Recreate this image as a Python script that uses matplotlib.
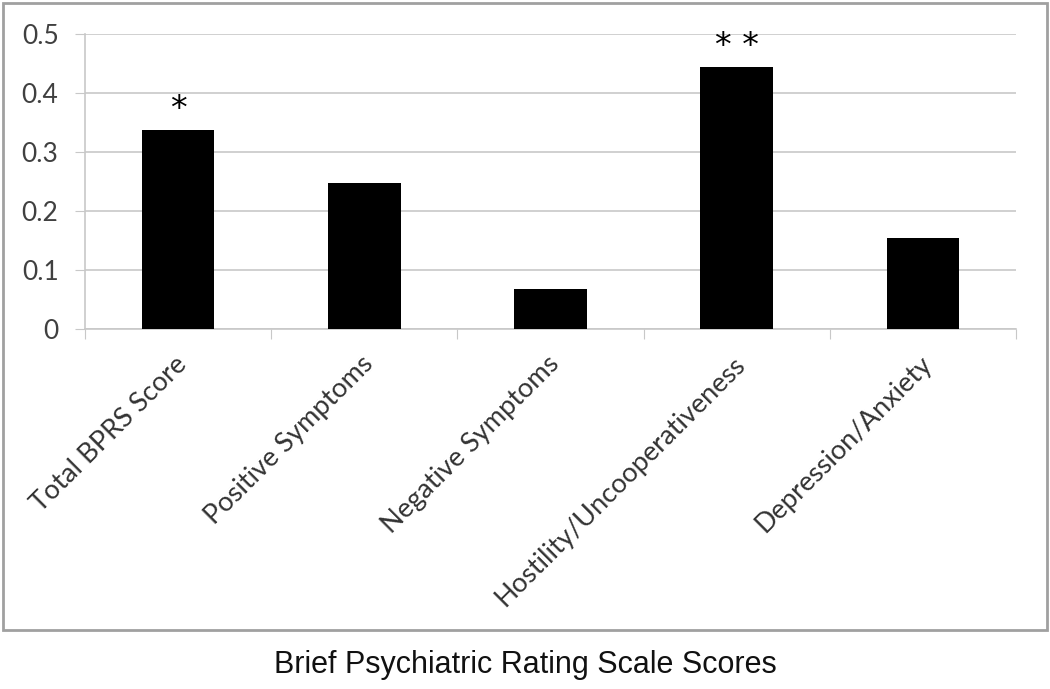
import matplotlib
matplotlib.use("Agg")
import matplotlib.pyplot as plt
from matplotlib.patches import Rectangle

categories = ["Total BPRS Score", "Positive Symptoms", "Negative Symptoms",
              "Hostility/Uncooperativeness", "Depression/Anxiety"]
values = [0.338, 0.247, 0.068, 0.444, 0.154]
stars = ["*", "", "", "* *", ""]
yticks = [0, 0.1, 0.2, 0.3, 0.4, 0.5]
ytick_labels = ["0", "0.1", "0.2", "0.3", "0.4", "0.5"]

fig = plt.figure(figsize=(10.5, 6.89), dpi=100)
ax = fig.add_axes([85 / 1050, 1 - 329 / 689, (1016 - 85) / 1050, (329 - 34) / 689])

x = list(range(len(categories)))
ax.bar(x, values, width=0.39, color="black", zorder=3)
ax.set_xlim(-0.5, len(categories) - 0.5)
ax.set_ylim(0, 0.5)

ax.set_yticks(yticks)
ax.set_yticklabels(ytick_labels, fontsize=19, color="#404040", family="Lato")
ax.yaxis.grid(True, color="#c8c8c8", linewidth=1.2, zorder=0)
ax.tick_params(axis="y", length=7, color="#c8c8c8", pad=12)

# category boundary ticks
ax.set_xticks([i - 0.5 for i in range(len(categories) + 1)])
ax.set_xticklabels([])
ax.tick_params(axis="x", length=7, color="#c8c8c8", direction="out")

for i, lab in enumerate(categories):
    ax.annotate(lab, xy=(i, 0), xycoords="data", xytext=(-3, -16),
                textcoords="offset points", rotation=45, ha="right", va="top",
                rotation_mode="anchor", fontsize=19.5, color="#333333",
                family="Lato")

for i, s in enumerate(stars):
    if s:
        ax.text(i, values[i] + 0.034, s, ha="center", va="center",
                fontsize=24, color="black", family="DejaVu Sans")

for side in ["top", "right"]:
    ax.spines[side].set_visible(False)
ax.spines["left"].set_color("#c8c8c8")
ax.spines["bottom"].set_color("#c8c8c8")
ax.spines["left"].set_linewidth(1.2)
ax.spines["bottom"].set_linewidth(1.2)

fig.patches.append(Rectangle((3 / 1050, 1 - 630 / 689), 1044 / 1050, 627 / 689,
                             transform=fig.transFigure, fill=False,
                             edgecolor="#a0a0a0", linewidth=2))

fig.text(0.5, 1 - 665 / 689, "Brief Psychiatric Rating Scale Scores",
         ha="center", va="center", fontsize=22, family="Liberation Sans",
         color="#111111")

fig.savefig("out.png", dpi=100)
